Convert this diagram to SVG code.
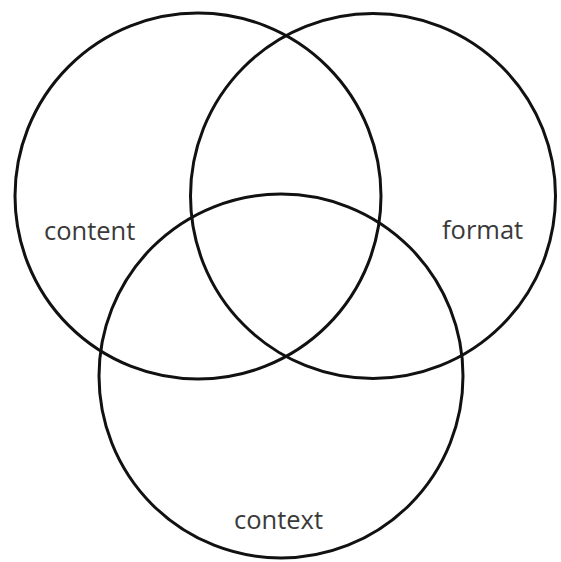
<svg xmlns="http://www.w3.org/2000/svg" width="561" height="562" viewBox="0 0 561 562">
<style>
.c{fill:none;stroke:#111;stroke-width:3}
.t{font-family:"Open Sans","Noto Sans",sans-serif;font-size:25.5px;fill:#3a3a3a}
</style>
<rect width="561" height="562" fill="#fff"/>
<g id="content"><circle class="c" cx="198" cy="196" r="183"/><text class="t" x="44" y="240">content</text></g>
<g id="format"><circle class="c" cx="373" cy="196" r="182.5"/><text class="t" x="442" y="239">format</text></g>
<g id="context"><circle class="c" cx="281" cy="376" r="182"/><text class="t" x="234" y="529">context</text></g>
</svg>
